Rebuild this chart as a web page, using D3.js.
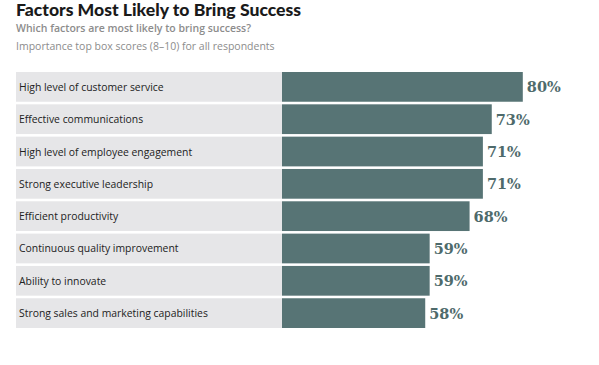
<!DOCTYPE html>
<html><head><meta charset="utf-8">
<script src="https://cdn.jsdelivr.net/npm/d3@7"></script>
<style>body{margin:0;background:#fff}</style>
</head><body>
<script>
const categories = ["High level of customer service","Effective communications","High level of employee engagement","Strong executive leadership","Efficient productivity","Continuous quality improvement","Ability to innovate","Strong sales and marketing capabilities"];
const values = [80,73,71,71,68,59,59,58];
const title = "Factors Most Likely to Bring Success";
const subtitle = "Which factors are most likely to bring success?";
const note = "Importance top box scores (8–10) for all respondents";

const W=599,H=365;
const svg=d3.select("body").append("svg").attr("width",W).attr("height",H);
const bgX0=16, barX0=282;
const x=d3.scaleLinear().domain([0,100]).range([168,611.5]);
const y=d3.scaleBand().domain(categories).range([72,328]).paddingInner(0.08).paddingOuter(0);

svg.append("text").attr("x",16).attr("y",16).text(title)
  .attr("font-family","Lato, sans-serif").attr("font-weight",900).attr("font-size",17.6).attr("fill","#1a1a1a");
svg.append("text").attr("x",16).attr("y",31.5).text(subtitle)
  .attr("font-family","Open Sans, sans-serif").attr("font-weight",600).attr("font-size",10.5).attr("fill","#8c8c8c");
svg.append("text").attr("x",16).attr("y",50).text(note)
  .attr("font-family","Open Sans, sans-serif").attr("font-weight",400).attr("font-size",10.5).attr("fill","#8c8c8c");

const g=svg.append("g");
const rows=g.selectAll("g.row").data(categories).join("g").attr("class","row");
rows.append("rect").attr("x",bgX0).attr("y",d=>y(d)).attr("width",barX0-bgX0).attr("height",y.bandwidth()).attr("fill","#e6e6e8");
rows.append("rect").attr("x",barX0).attr("y",d=>y(d)).attr("width",(d,i)=>x(values[i])-barX0).attr("height",y.bandwidth()).attr("fill","#577475");
rows.append("text").attr("x",19).attr("y",d=>y(d)+y.bandwidth()/2+4).text(d=>d)
  .attr("font-family","Open Sans, sans-serif").attr("font-size",10.4).attr("fill","#222");
rows.append("text").attr("x",(d,i)=>x(values[i])+4).attr("y",d=>y(d)+y.bandwidth()/2+5.5).text((d,i)=>values[i]+"%")
  .attr("font-family","DejaVu Serif, serif").attr("font-weight",700).attr("font-size",14.5).attr("fill","#4e6a6b");
</script>
</body></html>
